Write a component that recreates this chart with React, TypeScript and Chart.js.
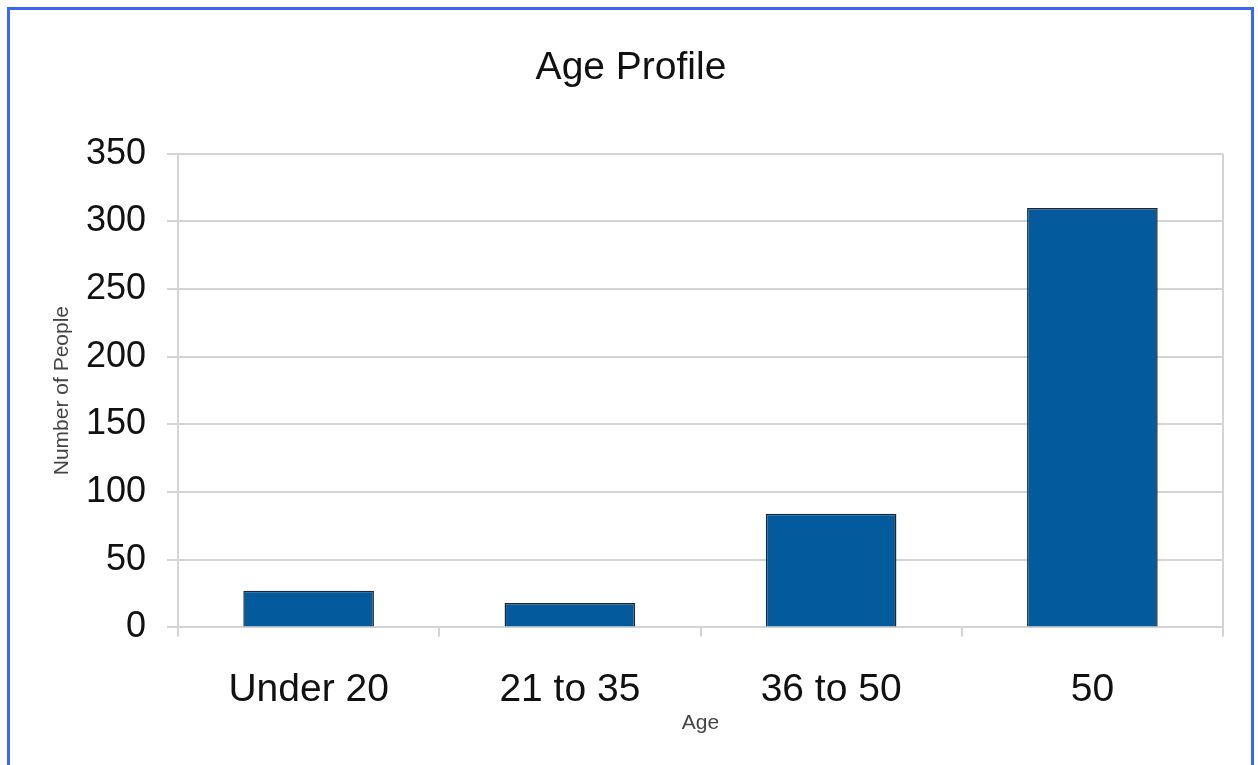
import React, { useEffect, useRef } from "react";
import { Chart, registerables } from "chart.js";

Chart.register(...registerables);

const categories: string[] = ["Under 20", "21 to 35", "36 to 50", "50"];
const people: number[] = [27, 18, 84, 310];
const yTicks: number[] = [0, 50, 100, 150, 200, 250, 300, 350];

const GRID = "#d4d4d4";
const FONT = "'Liberation Sans', Arial, sans-serif";

export default function App() {
  const ref = useRef<HTMLCanvasElement | null>(null);

  useEffect(() => {
    if (!ref.current) return;
    const chart = new Chart(ref.current, {
      type: "bar",
      data: {
        labels: categories,
        datasets: [
          {
            label: "Number of People",
            data: people,
            backgroundColor: "#035a9c",
            borderColor: "#1b2735",
            borderWidth: 1.5,
            barPercentage: 0.5,
            categoryPercentage: 1,
          },
        ],
      },
      options: {
        animation: false,
        responsive: false,
        maintainAspectRatio: false,
        layout: { padding: { left: 29, right: 28, top: 0, bottom: 28.8 } },
        plugins: {
          legend: { display: false },
          tooltip: { enabled: false },
          title: {
            display: true,
            text: "Age Profile",
            color: "#111",
            font: { family: FONT, size: 39, weight: "normal" },
            padding: { top: 35, bottom: 62 },
          },
        },
        scales: {
          x: {
            offset: true,
            grid: {
              offset: true,
              drawOnChartArea: true,
              color: (ctx: any) =>
                ctx.index === undefined || ctx.index === 0 ? GRID : "rgba(0,0,0,0)",
              tickColor: GRID,
              lineWidth: 2,
              tickLength: 9,
            },
            border: { display: true, color: GRID, width: 2 },
            ticks: {
              color: "#111",
              font: { family: FONT, size: 39 },
              padding: 30,
            },
            title: {
              display: true,
              text: "Age",
              color: "#444",
              font: { family: FONT, size: 21 },
              padding: { top: -32.2, bottom: 0 },
            },
          },
          y: {
            min: 0,
            max: 350,
            afterBuildTicks: (axis: any) => {
              axis.ticks = yTicks.map((v) => ({ value: v }));
            },
            afterFit: (axis: any) => {
              axis.width = 139;
            },
            grid: {
              color: GRID,
              lineWidth: 2,
              tickLength: 11,
              tickColor: GRID,
            },
            border: { display: true, color: GRID, width: 2 },
            ticks: {
              color: "#111",
              font: { family: FONT, size: 36 },
              padding: 21,
            },
            title: {
              display: true,
              text: "Number of People",
              color: "#444",
              font: { family: FONT, size: 21 },
              padding: { top: 11, bottom: 8 },
            },
          },
        },
      },
    });
    return () => chart.destroy();
  }, []);

  return (
    <div
      style={{
        position: "fixed",
        left: 7,
        top: 7,
        width: 1247,
        height: 800,
        borderTop: "3px solid #3b66f2",
        borderLeft: "3px solid #3b66f2",
        borderRight: "3px solid #3b66f2",
        boxSizing: "border-box",
        background: "#fff",
      }}
    >
      <canvas
        ref={ref}
        width={1241}
        height={755}
        style={{ position: "absolute", left: 0, top: 0, width: 1241, height: 755 }}
      />
    </div>
  );
}
